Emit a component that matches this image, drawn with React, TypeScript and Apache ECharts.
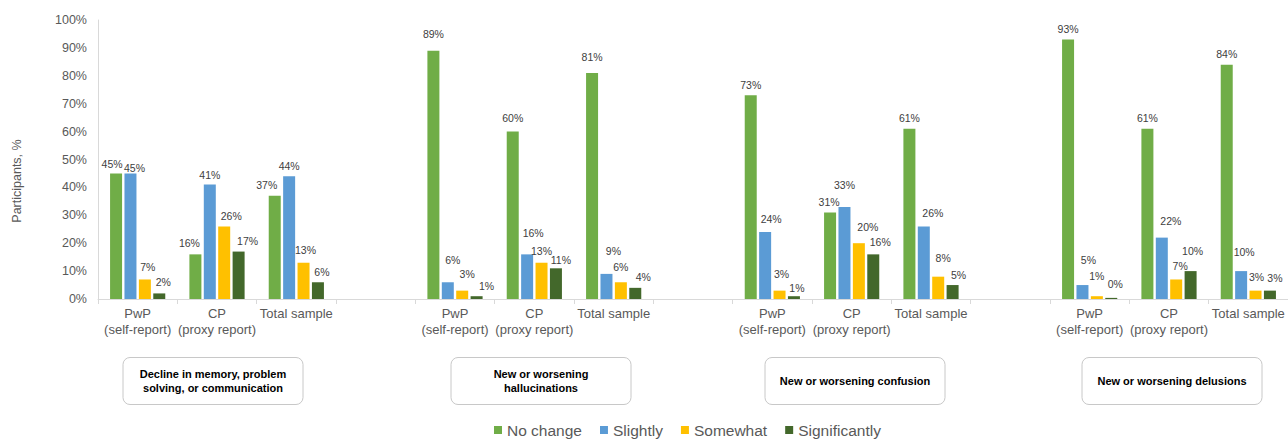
import React, { useEffect, useRef } from "react";
import * as echarts from "echarts";

const categories = [
  "PwP\n(self-report)", "CP\n(proxy report)", "Total sample", "",
  "PwP\n(self-report)", "CP\n(proxy report)", "Total sample", "",
  "PwP\n(self-report)", "CP\n(proxy report)", "Total sample", "",
  "PwP\n(self-report)", "CP\n(proxy report)", "Total sample",
];

const noChange = [45, 16, 37, null, 89, 60, 81, null, 73, 31, 61, null, 93, 61, 84];
const slightly = [45, 41, 44, null, 6, 16, 9, null, 24, 33, 26, null, 5, 22, 10];
const somewhat = [7, 26, 13, null, 3, 13, 6, null, 3, 20, 8, null, 1, 7, 3];
const significantly = [2, 17, 6, null, 1, 11, 4, null, 1, 16, 5, null, 0.4, 10, 3];

const seriesNames = ["No change", "Slightly", "Somewhat", "Significantly"];
const seriesColors = ["#70AD47", "#5B9BD5", "#FFC000", "#43682B"];

// label nudges (styling only), as placed in the reference
const labelDxNoChange = [-4, -6, -8, 0, 0, 0, 0, 0, 0, -1, 0, 0, 0, 0, 0];
const labelDyNoChange = [0, -2, -1, 0, -7, -4, -7, 0, -1, -1, -1, 0, -1, -1, -1];
const labelDxSlightly = [4, 0, 0, 0, 5, 6, 7, 0, 6, 0, 9, 0, 6, 9, 3];
const labelDySlightly = [4, 0, -1, 0, -13, -12, -13, 0, -4, -12, -4, 0, -16, -7, -10];
const labelDxSomewhat = [3, 7, 2, 0, 5, 0, 0, 0, 2, 9, 5, 0, 0, 4, 1];
const labelDySomewhat = [-3, -1, -3, 0, -7, -2, -6, 0, -7, -7, -9, 0, -11, -4, -4];
const labelDxSignif = [4, 9, 4, 0, 10, 5, 8, 0, 3, 7, 6, 0, 4, 2, 5];
const labelDySignif = [-2, -1, -1, 0, -1, 1, -1, 0, 1, -3, -1, 0, -4, -11, -3];

const yTicks = { min: 0, max: 100, interval: 10 };

const boxTitles = [
  "Decline in memory, problem\nsolving, or communication",
  "New or worsening\nhallucinations",
  "New or worsening confusion",
  "New or worsening delusions",
];
const boxLefts = [123, 451, 765, 1082];

const FONT = "Liberation Sans, Arial, sans-serif";

export default function App() {
  const ref = useRef<HTMLDivElement>(null);
  useEffect(() => {
    if (!ref.current) return;
    const chart = echarts.init(ref.current, undefined, { renderer: "svg" });
    const data = [noChange, slightly, somewhat, significantly];
    const dxs = [labelDxNoChange, labelDxSlightly, labelDxSomewhat, labelDxSignif];
    const dys = [labelDyNoChange, labelDySlightly, labelDySomewhat, labelDySignif];
    const series = data.map((d, i) => ({
      name: seriesNames[i],
      type: "bar",
      data: d.map((v, j) => ({
        value: v,
        label: { offset: [dxs[i][j], dys[i][j]] },
      })),
      barWidth: 12,
      barGap: "20%",
      itemStyle: { color: seriesColors[i] },
      label: {
        show: true,
        position: "top",
        distance: 4,
        color: "#404040",
        fontSize: 10.5,
        fontFamily: FONT,
        formatter: (p: any) => (p.value == null ? "" : Math.round(p.value) + "%"),
      },
    }));
    const graphics: any[] = [
      {
        type: "text",
        x: 17,
        y: 181,
        rotation: Math.PI / 2,
        style: {
          text: "Participants, %",
          fill: "#595959",
          fontSize: 12.5,
          fontFamily: FONT,
          align: "center",
          verticalAlign: "middle",
        },
      },
    ];
    boxTitles.forEach((t, i) => {
      graphics.push({
        type: "rect",
        shape: { x: boxLefts[i], y: 357.5, width: 180, height: 47, r: 7 },
        style: { fill: "#ffffff", stroke: "#c8c8c8", lineWidth: 1 },
      });
      graphics.push({
        type: "text",
        x: boxLefts[i] + 90,
        y: 381,
        style: {
          text: t,
          fill: "#000000",
          fontSize: 11,
          fontWeight: "bold",
          lineHeight: 13.5,
          fontFamily: FONT,
          align: "center",
          verticalAlign: "middle",
        },
      });
    });
    chart.setOption({
      animation: false,
      backgroundColor: "#ffffff",
      textStyle: { fontFamily: FONT },
      grid: { left: 98, right: 0, top: 20, bottom: 145, containLabel: false },
      legend: {
        data: seriesNames,
        left: 494,
        top: 421,
        padding: 0,
        itemWidth: 8,
        itemHeight: 8,
        itemGap: 18,
        icon: "rect",
        textStyle: { color: "#595959", fontSize: 15.5, lineHeight: 18, fontFamily: FONT },
      },
      xAxis: {
        type: "category",
        data: categories,
        axisLine: { show: true, lineStyle: { color: "#d9d9d9" } },
        axisTick: { show: true, length: 5, lineStyle: { color: "#d9d9d9" } },
        axisLabel: {
          interval: 0,
          color: "#595959",
          fontSize: 13,
          lineHeight: 16,
          margin: 6,
          fontFamily: FONT,
        },
      },
      yAxis: {
        type: "value",
        min: yTicks.min,
        max: yTicks.max,
        interval: yTicks.interval,
        axisLine: { show: true, lineStyle: { color: "#d9d9d9" } },
        axisTick: { show: false },
        splitLine: { show: false },
        axisLabel: {
          formatter: "{value}%",
          color: "#595959",
          fontSize: 12.5,
          margin: 11,
          fontFamily: FONT,
        },
      },
      series,
      graphic: graphics,
    });
    return () => chart.dispose();
  }, []);
  return (
    <div
      ref={ref}
      style={{ position: "fixed", left: 0, top: 0, width: 1288, height: 444, background: "#fff" }}
    />
  );
}
